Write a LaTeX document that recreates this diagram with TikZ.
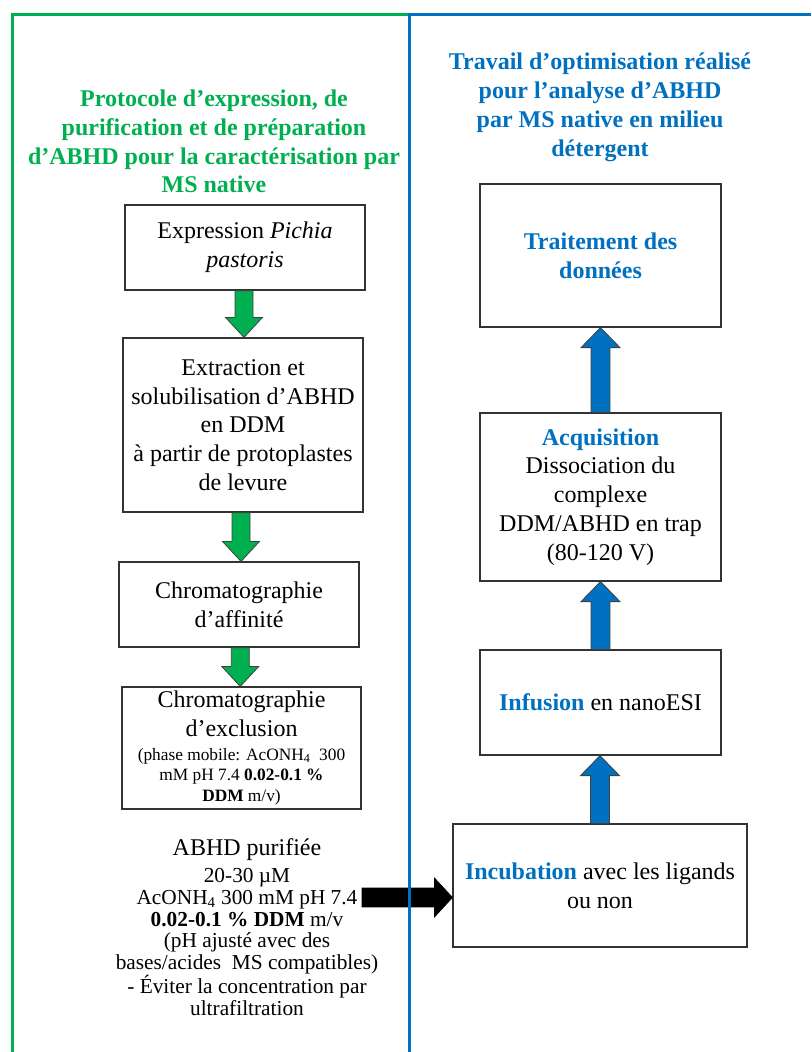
\documentclass[tikz,border=0pt]{standalone}
\usepackage{fontspec}
\setmainfont{Liberation Serif}
\usetikzlibrary{calc}
\definecolor{pgreen}{HTML}{00B050}
\definecolor{pblue}{HTML}{0070C0}
\newcommand\smf{\fontsize{13}{15.6}\selectfont}
\newcommand\gdown[2]{%
  \draw[garrow] let \p1=(#1.south), \p2=(#2.north), \p3=($(#1.south)!0.5!(#2.north)$) in
    (\x3-6.75pt,\y1) -- (\x3+6.75pt,\y1) -- (\x3+6.75pt,\y2+15pt) -- (\x3+13.9pt,\y2+15pt)
    -- (\x3,\y2) -- (\x3-13.9pt,\y2+15pt) -- (\x3-6.75pt,\y2+15pt) -- cycle;}
\newcommand\bup[2]{%
  \draw[barrow] let \p1=(#1.north), \p2=(#2.south) in
    (\x1-7.1pt,\y1) -- (\x1+7.1pt,\y1) -- (\x1+7.1pt,\y2-15pt) -- (\x1+14.6pt,\y2-15pt)
    -- (\x1,\y2) -- (\x1-14.6pt,\y2-15pt) -- (\x1-7.1pt,\y2-15pt) -- cycle;}
\begin{document}
\begin{tikzpicture}[x=0.75pt,y=-0.75pt,
  bx/.style={draw=black!80, line width=0.9pt, align=center, inner sep=2pt, font=\fontsize{18}{21.6}\selectfont},
  ttl/.style={align=center, font=\fontsize{18}{21.6}\selectfont\bfseries},
  garrow/.style={fill=pgreen, draw=black!75, line width=0.6pt},
  barrow/.style={fill=pblue, draw=black!75, line width=0.6pt},
  karrow/.style={fill=black, draw=black, line width=0.6pt}]
\useasboundingbox (0,0) rectangle (811,1052);

% left column
\node[ttl, text=pgreen] (ltitle) at (214,141.5) {Protocole d’expression, de\\purification et de préparation\\d’ABHD pour la caractérisation par\\MS native};
\node[bx, minimum width=180pt, minimum height=63.75pt] (b1) at (245,247.5) {Expression \textit{Pichia}\\\textit{pastoris}};
\node[bx, minimum width=180pt, minimum height=130.5pt] (b2) at (243,425) {Extraction et\\solubilisation d’ABHD\\en DDM\\à partir de protoplastes\\de levure};
\node[bx, minimum width=180pt, minimum height=63.75pt] (b3) at (239,604.5) {Chromatographie\\d’affinité};
\node[bx, minimum width=179.25pt, minimum height=91.5pt, inner sep=1pt] (b4) at (241.5,748) {Chromatographie\\d’exclusion\\[-3.5pt]\smf(phase mobile: AcONH\textsubscript{4}\ \ 300\\[-6pt]\smf mM pH 7.4 \textbf{0.02-0.1 \%}\\[-6pt]\smf\textbf{DDM} m/v)};
\node[align=center, font=\fontsize{16}{16.3}\selectfont] (abhd) at (247,927) {{\fontsize{18}{21.6}\selectfont ABHD purifiée}\\[4.5pt]20-30 µM\\AcONH\textsubscript{4} 300 mM pH 7.4\\\textbf{0.02-0.1 \% DDM} m/v\\(pH ajusté avec des\\bases/acides\ \ MS compatibles)\\- Éviter la concentration par\\ultrafiltration};

\gdown{b1}{b2}
\gdown{b2}{b3}
\gdown{b3}{b4}

% right column
\node[ttl, text=pblue] (rtitle) at (600,107.5) {Travail d’optimisation réalisé\\pour l’analyse d’ABHD\\par MS native en milieu\\détergent};
\node[bx, minimum width=180.75pt, minimum height=107.25pt] (r1) at (600.5,255.5) {\textcolor{pblue}{\textbf{Traitement des}}\\\textcolor{pblue}{\textbf{données}}};
\node[bx, minimum width=180.75pt, minimum height=126pt] (r2) at (600.5,497) {\textcolor{pblue}{\textbf{Acquisition}}\\Dissociation du\\complexe\\DDM/ABHD en trap\\(80-120 V)};
\node[bx, minimum width=180.75pt, minimum height=78.75pt] (r3) at (600.5,702.5) {\textcolor{pblue}{\textbf{Infusion}} en nanoESI};
\node[bx, minimum width=220.5pt, minimum height=92.25pt] (r4) at (600,885.5) {\textcolor{pblue}{\textbf{Incubation}} avec les ligands\\ou non};

\bup{r2}{r1}
\bup{r3}{r2}
\bup{r4}{r3}

% black arrow
\coordinate (bs) at (362,897.5);
\draw[karrow] let \p1=(bs), \p2=(r4.west) in
  (\x1,\y1+7.1pt) -- (\x2-13.5pt,\y1+7.1pt) -- (\x2-13.5pt,\y1+14.6pt) -- (\x2,\y1)
  -- (\x2-13.5pt,\y1-14.6pt) -- (\x2-13.5pt,\y1-7.1pt) -- (\x1,\y1-7.1pt) -- cycle;

% frames
\draw[pgreen, line width=2.25pt] (12,1052) -- (12,15) -- (409,15);
\draw[pblue, line width=2.25pt] (409,1052) -- (409,15) -- (811,15);
\end{tikzpicture}
\end{document}
